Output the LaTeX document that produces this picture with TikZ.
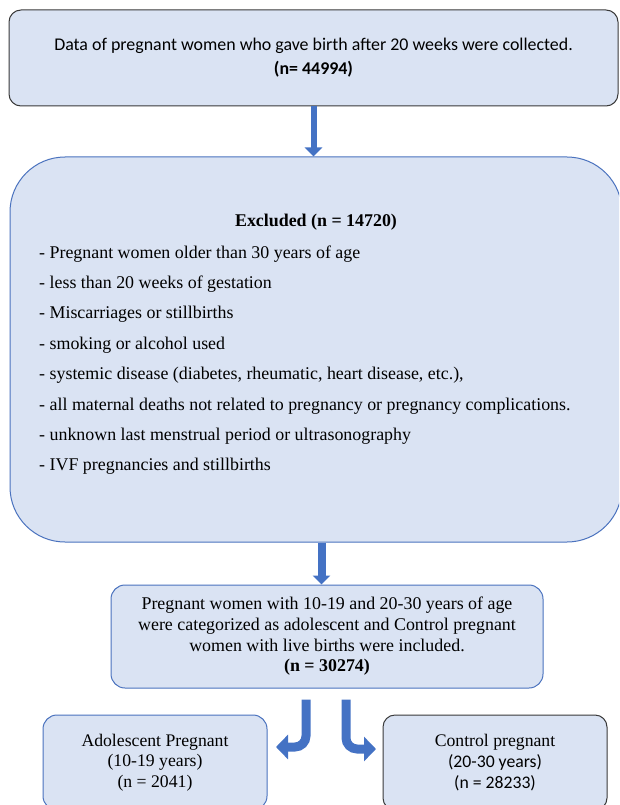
\documentclass[tikz,border=0pt]{standalone}
\usepackage{fontspec}
\setmainfont{Liberation Serif}
\newfontfamily\calib{Carlito}
\usetikzlibrary{arrows.meta, positioning, calc}

\definecolor{boxfill}{HTML}{DAE3F3}
\definecolor{boxblue}{HTML}{4A72BE}
\definecolor{boxgrey}{HTML}{3A3A3A}
\definecolor{arrowblue}{HTML}{4472C4}

\tikzset{
  box/.style={draw=boxblue, fill=boxfill, line width=1pt, rounded corners=14pt, align=center},
  greybox/.style={box, draw=boxgrey},
  downarrow/.style={draw=arrowblue, line width=6pt, -{Triangle[width=17pt,length=9pt]}},
  bentarrow/.style={draw=arrowblue, line width=9pt, rounded corners=11pt, -{Triangle[width=24pt,length=12pt]}},
}

\begin{document}
\begin{tikzpicture}[x=1pt, y=-1pt]
  \clip (0,0) rectangle (619,805);

  % boxes
  \node[greybox, minimum width=609pt, minimum height=96pt, rounded corners=12pt,
        font=\calib\fontsize{17.9}{24}\selectfont] (top) at (313.5,58)
    {Data of pregnant women who gave birth after 20 weeks were collected.\\ \textbf{(n= 44994)}};
  \node[box, minimum width=612pt, minimum height=385pt, rounded corners=55pt] (excl) at (316,349.5) {};
  \node[box, minimum width=432pt, minimum height=103pt, font=\fontsize{17.9}{20.7}\selectfont] (incl) at (327,636.5)
    {Pregnant women with 10-19 and 20-30 years of age\\
     were categorized as adolescent and Control pregnant\\
     women with live births were included.\\
     \textbf{(n = 30274)}};
  \node[box, minimum width=224pt, minimum height=95pt, font=\fontsize{17.7}{20.7}\selectfont] (adol) at (155,762.5)
    {Adolescent Pregnant\\(10-19 years)\\(n = 2041)};
  \node[greybox, minimum width=224pt, minimum height=95pt, rounded corners=12pt,
        font=\calib\fontsize{17.7}{21}\selectfont] (ctrl) at (495,762.5)
    {{\rmfamily Control pregnant}\\(20-30 years)\\(n = 28233)};

  % exclusion list
  \node[font=\bfseries\fontsize{17.9}{19}\selectfont] (extitle) at (316,222) {Excluded (n = 14720)};
  \foreach \item [count=\i from 0] in {
      {- Pregnant women older than 30 years of age},
      {- less than 20 weeks of gestation},
      {- Miscarriages or stillbirths},
      {- smoking or alcohol used},
      {- systemic disease (diabetes, rheumatic, heart disease, etc.),},
      {- all maternal deaths not related to pregnancy or pregnancy complications.},
      {- unknown last menstrual period or ultrasonography},
      {- IVF pregnancies and stillbirths}}
    \node[anchor=base west, inner sep=0pt, font=\fontsize{17.9}{19}\selectfont] (ex\i) at (39,258+30.4*\i) {\item};

  % arrows
  \coordinate (adtip) at (276,747);
  \coordinate (cotip) at (376,749);
  \draw[downarrow] (top.south) -- (top.south |- excl.north);
  \draw[downarrow, line width=8pt] ($(excl.south)+(5.5,0)$) -- ($(incl.north)+(-5.5,0)$);
  \draw[bentarrow] ($(incl.south)+(-21,11)$) |- (adtip);
  \draw[bentarrow] ($(incl.south)+(19,11)$) |- (cotip);
\end{tikzpicture}
\end{document}
